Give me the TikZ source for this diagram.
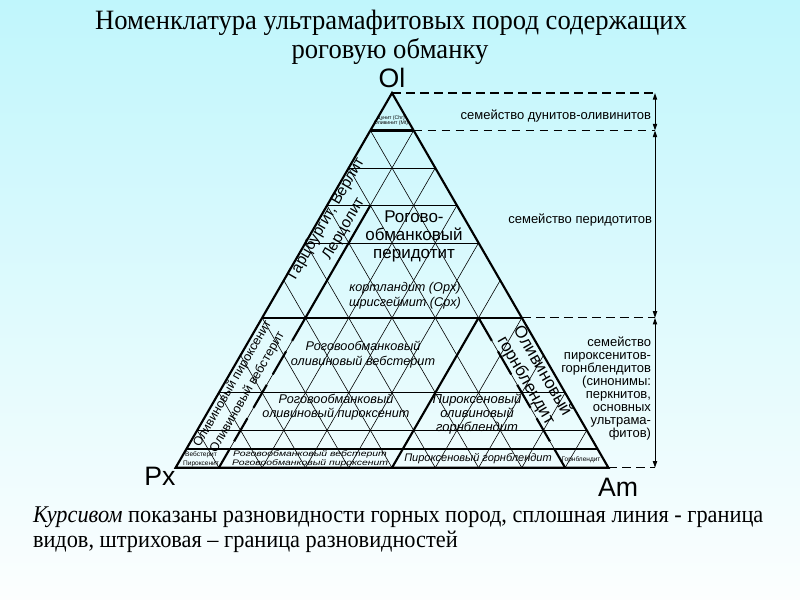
\documentclass[tikz,border=0pt]{standalone}
\usepackage{fontspec}
\setmainfont{Liberation Serif}
\setsansfont{Liberation Sans}
\usetikzlibrary{arrows.meta}
\definecolor{bgtop}{RGB}{192,246,252}
\definecolor{bgmid}{RGB}{214,249,252}
\definecolor{bgbot}{RGB}{252,254,254}
\begin{document}
\begin{tikzpicture}[x=0.75pt,y=-0.75pt,
  every node/.style={inner sep=0pt,outer sep=0pt},
  edge/.style={line width=1.6pt,line join=miter},
  spb/.style={line width=1.6pt},
  varb/.style={line width=1.6pt,dash pattern=on 20pt off 9pt},
  gridl/.style={line width=0.45pt},
  famb/.style={line width=0.75pt,dash pattern=on 6.5pt off 4pt},
  dimarr/.style={line width=0.75pt,{Triangle[length=5pt,width=3.2pt]}-{Triangle[length=5pt,width=3.2pt]}},
  ttl/.style={font=\fontsize{21}{22}\selectfont},
  captxt/.style={font=\fontsize{18}{19}\selectfont},
  vtx/.style={font=\sffamily\fontsize{20}{20}\selectfont},
  fam/.style={font=\sffamily\fontsize{9.75}{10}\selectfont},
  big/.style={font=\sffamily\fontsize{12.75}{13.5}\selectfont,align=center},
  rotl/.style={font=\sffamily\fontsize{11.6}{15}\selectfont,align=center},
  rots/.style={font=\sffamily\fontsize{9.4}{12.75}\selectfont,align=center},
  rotb/.style={font=\sffamily\fontsize{12.75}{14.25}\selectfont,align=center},
  itl/.style={font=\sffamily\itshape\fontsize{9.5}{11}\selectfont,align=center},
  itm/.style={font=\sffamily\itshape\fontsize{9.75}{10.5}\selectfont,align=center},
  itb/.style={font=\sffamily\itshape\fontsize{8.25}{9}\selectfont},
  itx/.style={font=\sffamily\itshape\fontsize{6}{6}\selectfont},
  tny/.style={font=\sffamily\fontsize{4.9}{5}\selectfont},
  tnz/.style={font=\sffamily\fontsize{3.9}{4.2}\selectfont,align=center},
]
\useasboundingbox (0,0) rectangle (800,600);
\shade[top color=bgtop,middle color=bgmid,bottom color=bgbot] (0,0) rectangle (800,600);

% vertices
\coordinate (O) at (392,93);
\coordinate (P) at (175.6,467.7);
\coordinate (A) at (608.4,467.7);

% thin grid
\foreach \k in {0.1,0.2,0.3,0.4,0.5,0.6,0.7,0.8,0.9}{
  \pgfmathsetmacro\r{1-\k}
  \draw[gridl] (barycentric cs:O=\r,P=\k,A=0) -- (barycentric cs:O=0,P=\k,A=\r);
  \draw[gridl] (barycentric cs:O=\r,P=0,A=\k) -- (barycentric cs:O=0,P=\r,A=\k);
}
\foreach \o in {0.8,0.7,0.6,0.2,0.1}{
  \pgfmathsetmacro\r{1-\o}
  \draw[gridl] (barycentric cs:O=\o,P=\r,A=0) -- (barycentric cs:O=\o,P=0,A=\r);
}
% species boundaries
\foreach \o in {0.9,0.4,0.05}{
  \pgfmathsetmacro\r{1-\o}
  \draw[spb] (barycentric cs:O=\o,P=\r,A=0) -- (barycentric cs:O=\o,P=0,A=\r);
}
\draw[spb] (barycentric cs:O=0.4,P=0.1,A=0.5) -- (barycentric cs:O=0,P=0.5,A=0.5);
\draw[spb] (barycentric cs:O=0.7,P=0.2,A=0.1) -- (barycentric cs:O=0.4,P=0.5,A=0.1);
\draw[varb] (barycentric cs:O=0.4,P=0.5,A=0.1) -- (barycentric cs:O=0.05,P=0.85,A=0.1);
\draw[varb] (barycentric cs:O=0.4,P=0.1,A=0.5) -- (barycentric cs:O=0.05,P=0.1,A=0.85);
\draw[spb] (barycentric cs:O=0.05,P=0.85,A=0.1) -- (barycentric cs:O=0,P=0.9,A=0.1);
\draw[spb] (barycentric cs:O=0.05,P=0.1,A=0.85) -- (barycentric cs:O=0,P=0.1,A=0.9);
\draw[edge] (O) -- (P) -- (A) -- cycle;

% family boundaries on the right
\coordinate (R0) at (655,93);
\coordinate (D1) at (barycentric cs:O=0.9,P=0,A=0.1);
\coordinate (D4) at (barycentric cs:O=0.4,P=0,A=0.6);
\draw[famb,line width=1.3pt] (O) -- (R0);
\draw[famb] (D1) -- (D1 -| R0);
\draw[famb] (D4) -- (D4 -| R0);
\draw[famb] (A) -- (A -| R0);
\draw[dimarr] (R0) -- (D1 -| R0);
\draw[dimarr] (D1 -| R0) -- (D4 -| R0);
\draw[dimarr] (D4 -| R0) -- (A -| R0);

% title
\node[ttl,anchor=base] (t1) at (391,29) {\scalebox{0.95}[1]{Номенклатура ультрамафитовых пород содержащих}};
\node[ttl,anchor=base] (t2) at (390,58) {\scalebox{0.95}[1]{роговую обманку}};

% vertex labels
\node[vtx,anchor=base] (lOl) at (392,87) {Ol};
\node[vtx,anchor=base] (lPx) at (160,485) {Px};
\node[vtx,anchor=base] (lAm) at (618,496) {Am};

% family labels
\node[fam,anchor=base east] (f1) at (651,119) {семейство дунитов-оливинитов};
\node[fam,anchor=base east] (f2) at (652,223) {семейство перидотитов};
\node[fam,anchor=base east] (f3a) at (651,346) {семейство};
\node[fam,anchor=base east] (f3b) at (651,359) {пироксенитов-};
\node[fam,anchor=base east] (f3c) at (651,372) {горнблендитов};
\node[fam,anchor=base east] (f3d) at (651,385) {(синонимы:};
\node[fam,anchor=base east] (f3e) at (651,398) {перкнитов,};
\node[fam,anchor=base east] (f3f) at (651,411) {основных};
\node[fam,anchor=base east] (f3g) at (651,424) {ультрама-};
\node[fam,anchor=base east] (f3h) at (651,437) {фитов)};

% field labels
\node[tnz] (dun) at (391,120.5) {Дунит (Chr)\\Оливинит (Mt)};
\node[rotl,rotate=60] (harz) at (335,224) {Гарцбургит, Верлит\\Лерцолит};
\node[big] (hbp) at (414,236) {Рогово-\\обманковый\\перидотит};
\node[itl] (kort) at (405,295.5) {кортландит (Opx)\\шрисгеймит (Cpx)};
\node[itl] (ow) at (363,354.5) {Роговообманковый\\оливиновый вебстерит};
\node[itl] (op) at (336,407) {Роговообманковый\\оливиновый пироксенит};
\node[itm] (poh) at (477,414) {Пироксеновый\\оливиновый\\горнблендит};
\node[rots,rotate=60] (opx) at (240,388) {Оливиновый пироксенит\\Оливиновый вебстерит};
\node[rotb,rotate=-60] (oh) at (534,376) {Оливиновый\\горнблендит};

% bottom strip
\node[tny,anchor=base] (w1) at (201,456.5) {Вебстерит};
\node[tny,anchor=base] (w2) at (201,465.3) {Пироксенит};
\node[itx,anchor=base west] (h1) at (233,456.5) {\scalebox{1.3}[1]{Роговообманковый вебстерит}};
\node[itx,anchor=base west] (h2) at (232,465.3) {\scalebox{1.3}[1]{Роговообманковый пироксенит}};
\node[itb,anchor=base] (pgb) at (478,461.5) {Пироксеновый горнблендит};
\node[tny,anchor=base] (gb) at (581,461) {Горнблендит};

% caption
\node[captxt,anchor=base west] (c1) at (33,522) {\scalebox{0.93}[1]{\textit{Курсивом} показаны разновидности горных пород, сплошная линия - граница}};
\node[captxt,anchor=base west] (c2) at (33,547) {\scalebox{0.93}[1]{видов, штриховая – граница разновидностей}};
\end{tikzpicture}
\end{document}
